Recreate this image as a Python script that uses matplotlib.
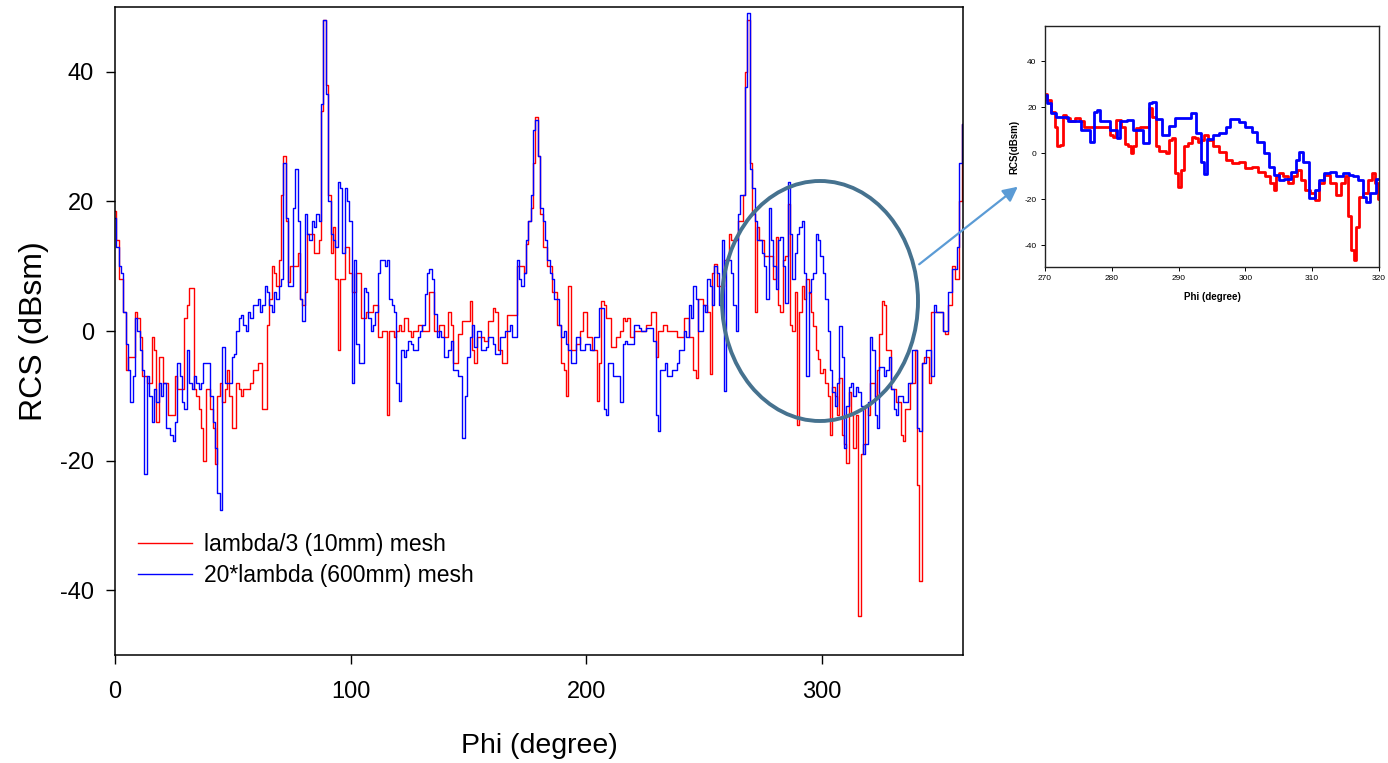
import numpy as np
import matplotlib
matplotlib.use("Agg")
import matplotlib.pyplot as plt
from matplotlib.patches import Ellipse, FancyArrowPatch

plt.rcParams['font.family'] = ['Liberation Sans', 'DejaVu Sans']
plt.rcParams['axes.unicode_minus'] = False

# ---------------- data ----------------
phi = np.arange(0, 361)

rcs_fine = [
    18.5, 14, 8, 8, 3, -6, -4, -4, -4, 3,
    2, -1, -7, -7, -8, -8, -1, -3, -14, -4,
    -4, -8, -8, -13, -13, -13, -7, -9, -9, -9,
    2, 4, 6.7, 6.7, -9, -10, -12, -15, -20, -9,
    -9, -12, -15, -20.6, -10, -8, -11, -9, -6, -10,
    -15, -15, -8, -9, -10, -9, -9, -9, -8, -6,
    -6, -5, -5, -12, -12, 1, 5, 10, 9, 7,
    11, 21, 27, 17, 7.5, 10, 10, 10, 12, 5,
    4, 6, 15, 15, 15, 12, 12, 14, 34, 48,
    38, 21, 12, 16, 8, -3, 8, 8, 13, 13,
    9, 6, 6, 9, 9, 2, 2, 3, 3, 3,
    4, 4, -1, -1, 0, 0, -12.9, 0, 0, -1,
    0, 1, 0, 2, 2, 0, -1, 0, 0, 1,
    1, 0, 0, 0, 6, 6, 0, 0, 1, 1,
    -1, -1, 3, 1, -5, -5, -0.5, -0.5, 1.5, 1.5,
    1.5, 4.6, -3, -5, -1, -1, -1, -1.5, -1.5, 1.5,
    1.5, 3.6, 3, -3, -3, -5, -5, 2.5, 2.5, 2.5,
    2.5, 10, 10, 10, 9, 13.5, 17, 19, 26, 33,
    27, 18, 13, 13, 10, 10, 6, 6, 1, 1,
    -5, -6, -10, 7, -3, -3, -2, -2, 0, 3,
    3, -1, -1, -3, -3, -10.8, -5, 4.6, 4, 2,
    2, -2.5, -2.5, -1, -1, 0, 2, 1.5, 2, -1,
    -1, 0, 0, 0, 0, 0, 1, 1, 3, 3,
    -4, 0, 0, 1, 1, 0, 0, 0, 0, -1,
    -1, -1, 2, 2, -1, -1, -6, -7.2, 5, 5,
    4, 4, 3, -6.7, 9, 10.3, 7, 7, 7, 11,
    11, 15, 14, 14, 14, 17, 17, 21, 40, 48,
    26, 18, 3, 16, 14, 14, 11.6, 11.6, 11.6, 11.6,
    8, 14.5, 4, 3, 11, 11.6, 19.6, 1, 0, 6,
    -14.5, 3, 7, 5, 8, 5.8, 3, 0.7, -3, -4.3,
    -6.5, -5.8, -8, -10, -16, -8.7, -10, -13, -7.2, -16,
    -17.4, -20.3, -9.4, -13, -18, -13, -44, -19, -17.4, -11.6,
    -13, -8, -8, -10, -6, -0.5, 4.7, 4, -3, -3,
    -9, -9, -11, -11, -16, -17, -12, -12, -8, -8,
    -3, -23.7, -38.6, -5, -4, -4, -8, 3, 3, 3,
    3, 3, 0, -0.5, 4, 4, 10, 8, 8, 20,
    32,
]

rcs_coarse = [
    17.5, 13, 10, 9, 3, -2, -6, -11, -7, 2,
    0, -3, -6, -22, -7, -10, -14, -9, -11, -8,
    -10, -8, -15, -15, -16, -17, -14, -5, -7, -11,
    -12, -3, -8, -9, -7, -8, -9, -8, -5, -5,
    -5, -10, -14, -18, -25, -27.6, -2.5, -8, -8, -8,
    -4, -3.6, 0, 2, 2.5, 1, 0, 3, 2, 4,
    4, 5, 3, 4, 7, 6, 4, 3, 6, 5,
    7, 8, 26, 17.5, 7, 7, 19, 25, 17, 5,
    1.5, 18, 15, 14, 17, 16, 18, 17, 35, 48,
    36.5, 20, 15, 14, 13, 23, 22, 12, 22, 20,
    17, -8, 11, -2, -5, -5, 6.7, 6, 2, 0,
    1, 3, 9, 11, 11, 10, 11, 5, 4, 3,
    -8, -10.8, -3, -4, -3, -1.5, -2, -3, -3, -1,
    0, 1, 5.7, 9, 9.5, 8, 2.6, -1, 0, -1,
    -4, -4, -3, -1.5, -6, -6, -7, -7, -16.5, -10,
    -4, -1, 1, -2.5, 0, 0, -3, -3, -2.5, -1,
    -1, -2, -3.5, -3.5, -1, -1, 0, 0, 1, -1,
    -1, 11, 8, 7, 9, 14, 17, 21, 31, 32.5,
    27, 19, 17, 14, 11, 9, 8, 5, 5, 1,
    -1, 0, -2, -3, -5, -5, -1, -1, -3, -3,
    -2, -2, -3, -3, -1, -1, 3.6, 3.6, -12, -13,
    -5, -5, -7, -7, -7, -11, -2, -1.5, -2, -2,
    -2, 1, 1, 0.5, 0, 0, 0.5, 0.5, 0.5, -1.5,
    -13, -15.4, -6, -6, -5, -7, -7, -6, -6, -5,
    -3, -3, 0, -1, 4, 2, 7, 5, 0, 0,
    4, 3, 8, 7, 4, 10, 9, 4, 14, -9.3,
    11, 11, 9, 4, 0, 18, 21, 21, 37.6, 49,
    25, 22, 17, 14, 14, 12, 10, 5, 19, 14,
    10, 6.5, 14, 14.5, 10, 4.3, 23, 15, 8, 12,
    15, 16, 17, 9, -7, 6, 8, 9, 15, 14,
    11.6, 9, 5, 0, -6, -9.4, -11.6, -8, 0.7, -4,
    -18, -11.6, -8.7, -8, -10, -8.7, -9.4, -11.6, -19, -17.5,
    -11, -1, -3, -13, -15, -5.5, -5.5, -7, -6, -4,
    -9, -12, -13, -10, -10, -11, -11, -8, -8, -3,
    -3, -15, -15.5, -5, -5, -3, -3, -7, 4, 3,
    3, 3, 0, 0, 6, 6, 9.5, 9.5, 13, 26,
    32,
]

# inset (zoom 270-320 deg)
inset_phi_fine = [270, 270.7, 271.2, 271.7, 272, 272.4, 272.9, 273.4, 274.1, 274.8,
                  275.6, 276.1, 279.5, 280, 280.5, 280.9, 281.2, 281.7, 282.2, 282.7,
                  282.9, 283.4, 283.9, 284.4, 285.4, 285.8, 286.3, 286.8, 287.3, 287.8,
                  288.3, 288.8, 289.2, 289.7, 290.1, 290.5, 291, 291.7, 292.2, 292.7,
                  293.2, 293.6, 294.1, 294.6, 295.6, 296.6, 297.5, 298.5, 299.5, 300.5,
                  301.4, 302.4, 303.4, 304.1, 304.4, 304.8, 305.3, 306, 306.8, 307.5,
                  308, 308.5, 309.2, 310, 310.7, 311.4, 312.2, 313.1, 313.9, 314.6,
                  315.1, 315.6, 316.1, 316.3, 316.8, 317.3, 318, 318.7, 319.2, 319.7,
                  320]
inset_rcs_fine = [26, 23, 18, 11.6, 3, 3.6, 16.7, 15.2, 14, 15.5,
                  14, 11.6, 11.6, 8, 7.2, 14.5, 14.5, 11.6, 4, 3,
                  0, 3, 11, 11.6, 11.6, 19.6, 16, 3, 1, 1,
                  0, 5.8, 6.5, -8.7, -14.5, -7.2, 3, 4.3, 7.2, 6.5,
                  5, 5.8, 8, 5.8, 3, 0.7, -3, -4.3, -3.6, -6.5,
                  -5.8, -8, -10, -13, -16, -10, -8.7, -10, -13, -10,
                  -7.2, -11.6, -16, -17.4, -20.3, -13, -9.4, -13, -18, -13,
                  -10, -27.5, -42, -46.4, -32, -19, -17.4, -11.6, -8.7, -13,
                  -20]

inset_phi_coarse = [270, 270.5, 271.2, 272, 273.2, 273.7, 275.1, 275.6, 276.6, 277,
                    277.6, 278, 278.5, 279.5, 280, 280.7, 281, 281.5, 283, 283.4,
                    284.4, 284.9, 285.3, 285.8, 286.3, 286.8, 287.3, 287.8, 288.3, 288.8,
                    289.2, 289.7, 290.7, 291.2, 291.7, 291.9, 292.4, 292.7, 293.1, 293.6,
                    294, 294.6, 295.6, 296.6, 297.5, 298, 298.5, 299.5, 300.5, 301.4,
                    302, 302.4, 303.1, 303.9, 304.8, 305.3, 306.3, 307.3, 307.8, 308.3,
                    309, 310, 310.7, 311.2, 312.2, 313.1, 314.1, 315.1, 315.8, 316.5,
                    317.3, 317.8, 318.2, 319, 320]
inset_rcs_coarse = [25.4, 21.7, 17.4, 16, 16, 14, 14, 10, 10, 5,
                    18, 18.8, 14, 14, 10, 10, 6.5, 14, 14.5, 10,
                    10, 4.3, 4.3, 22, 22.5, 15, 15, 8, 8, 12,
                    12, 15.2, 15.2, 15.2, 15.2, 17.4, 17.4, 9, 9, -4,
                    -9, 6, 8, 8.7, 11.6, 15, 15, 13.8, 11.6, 9.4,
                    5, 5, 0, -6, -9.4, -11.6, -11, -8, -3, 0.7,
                    -4, -19.6, -16, -11.6, -8.7, -8, -10, -8.7, -9.4, -10,
                    -11.6, -19, -21, -17.4, -11]

labels = ["lambda/3 (10mm) mesh", "20*lambda (600mm) mesh"]
main_xticks = [0, 100, 200, 300]
main_yticks = [-40, -20, 0, 20, 40]
inset_xticks = [270, 280, 290, 300, 310, 320]
inset_yticks = [-40, -20, 0, 20, 40]

RED = "#ff0000"
BLUE = "#0000ff"

# ---------------- figure ----------------
W, H = 1388, 763
fig = plt.figure(figsize=(W / 100, H / 100), dpi=100)

ax = fig.add_axes([115 / W, 1 - 655 / H, 848 / W, 648 / H])
ax.plot(phi, rcs_fine, color=RED, lw=1.0, drawstyle="steps-mid", label=labels[0])
ax.plot(phi, rcs_coarse, color=BLUE, lw=1.0, drawstyle="steps-mid", label=labels[1])
ax.set_xlim(0, 360)
ax.set_ylim(-50, 50)
ax.set_xticks(main_xticks)
ax.set_yticks(main_yticks)
ax.tick_params(direction="out", length=6.5, width=1.0, labelsize=17)
ax.tick_params(axis="x", pad=12)
ax.tick_params(axis="y", pad=8.5)
for s in ax.spines.values():
    s.set_linewidth(1.1)
ax.set_xlabel("Phi (degree)", fontsize=20.5, labelpad=22)
ax.set_ylabel("RCS (dBsm)", fontsize=23, labelpad=8)
leg = ax.legend(loc="upper left", bbox_to_anchor=((138 - 115) / 848, (655 - 533) / 648),
                frameon=False, fontsize=16.5, handlelength=2.35, handletextpad=0.55,
                labelspacing=0.36, borderpad=0, borderaxespad=0)

# inset
ax2 = fig.add_axes([1045 / W, 1 - 267 / H, 334 / W, 241 / H])
ax2.plot(inset_phi_fine, inset_rcs_fine, color=RED, lw=2.0, drawstyle="steps-mid")
ax2.plot(inset_phi_coarse, inset_rcs_coarse, color=BLUE, lw=2.0, drawstyle="steps-mid")
ax2.set_xlim(270, 320)
ax2.set_ylim(-49.5, 55.4)
ax2.set_xticks(inset_xticks)
ax2.set_yticks(inset_yticks)
ax2.tick_params(direction="out", length=3, width=0.7, labelsize=6, pad=3)
for s in ax2.spines.values():
    s.set_linewidth(1.0)
    s.set_color("#222222")
ax2.set_xlabel("Phi (degree)", fontsize=7, fontweight="bold", labelpad=7)
ax2.set_ylabel("RCS(dBsm)", fontsize=7, fontweight="bold", labelpad=4)

# annotation: ellipse and arrow (figure pixel positions)
ell = Ellipse((820 / W, 1 - 301 / H), 196 / W, 240 / H, transform=fig.transFigure,
              fill=False, edgecolor="#46728f", lw=2.8)
fig.add_artist(ell)
arr = FancyArrowPatch((917 / W, 1 - 266 / H), (1020 / W, 1 - 185 / H),
                      transform=fig.transFigure, arrowstyle="-|>", mutation_scale=22,
                      color="#5b9bd5", lw=1.6)
fig.add_artist(arr)

fig.savefig("out.png", dpi=100)
